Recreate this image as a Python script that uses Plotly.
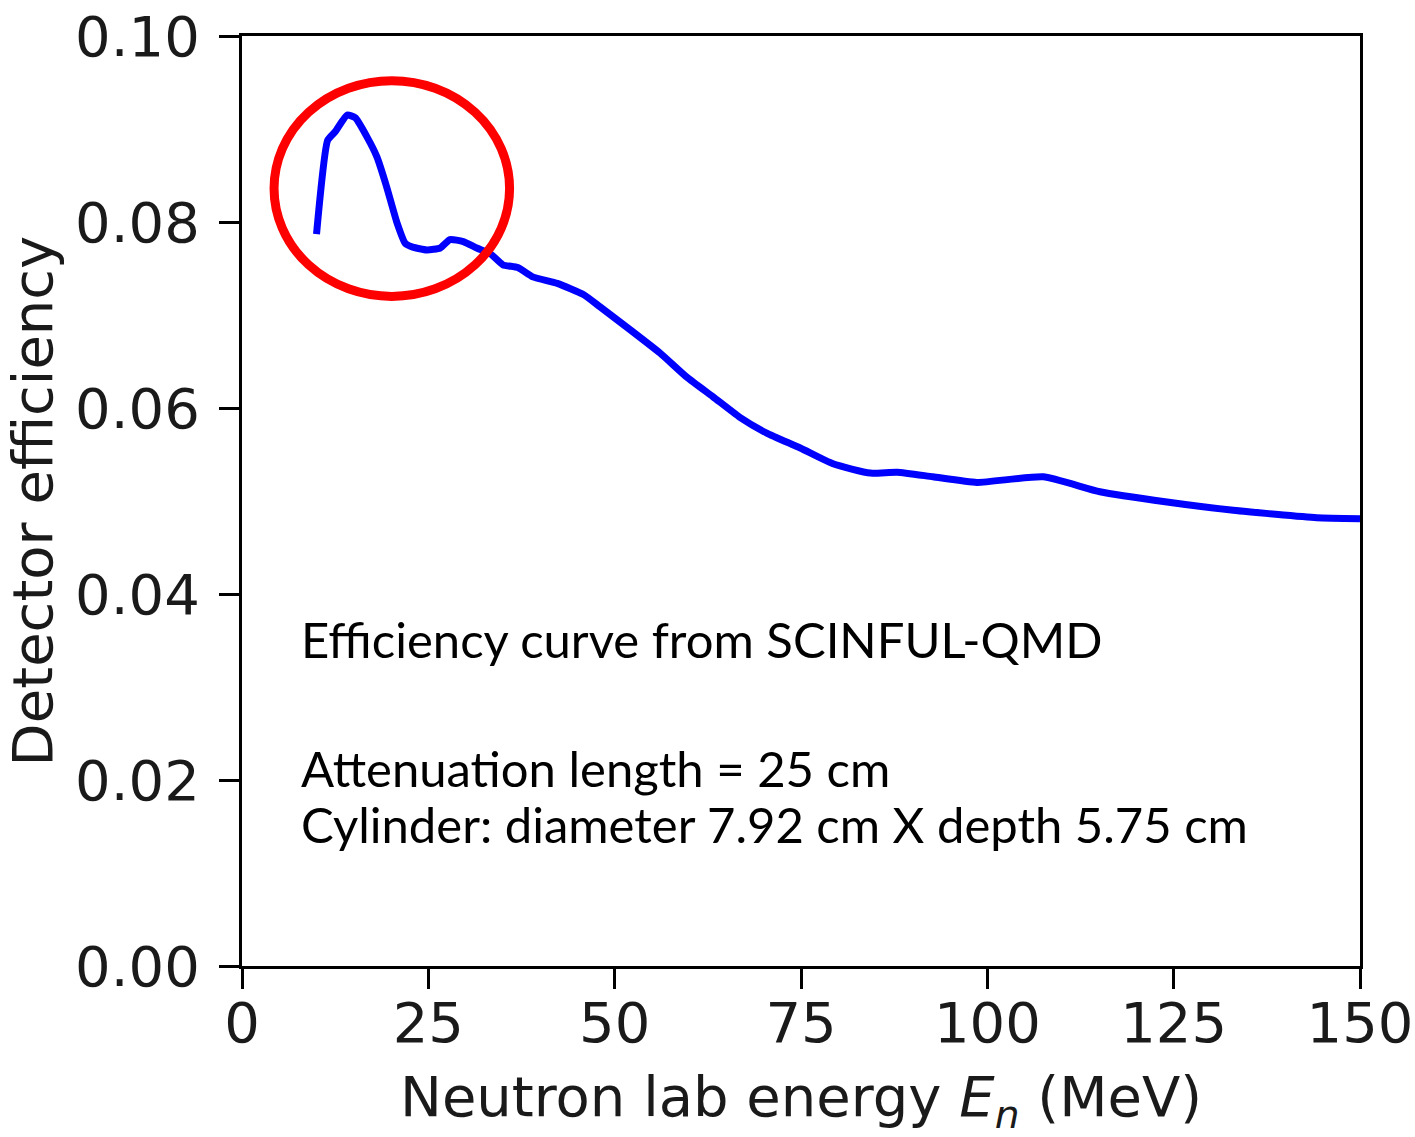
import plotly.graph_objects as go

# Data
energy_mev = [10, 11.5, 12.5, 14.1, 15.2, 16.8, 18.1, 19.4, 20.8, 21.9, 22.9, 24.8,
              26.6, 27.9, 29.7, 31.5, 33.3, 35.0, 37.0, 39.0, 42.3, 45.8, 48.0,
              52.1, 56.1, 59.7, 63.2, 66.8, 70.4, 74.9, 79.3, 84.3, 87.9, 92.7,
              98.6, 107.5, 115.1, 124.1, 133.0, 144.2, 150]
efficiency = [0.0787, 0.0888, 0.0897, 0.0915, 0.0912, 0.0891, 0.0870, 0.0838,
              0.0799, 0.0777, 0.0773, 0.0770, 0.0772, 0.0781, 0.0779, 0.0772,
              0.0766, 0.0754, 0.0751, 0.0741, 0.0734, 0.0722, 0.0709, 0.0684,
              0.0659, 0.0633, 0.0612, 0.0590, 0.0573, 0.0557, 0.0540, 0.0530,
              0.0531, 0.0526, 0.0520, 0.0526, 0.0510, 0.0499, 0.0490, 0.0482,
              0.0481]

x_ticks = [0, 25, 50, 75, 100, 125, 150]
y_ticks = [0.00, 0.02, 0.04, 0.06, 0.08, 0.10]
y_tick_labels = ["0.00", "0.02", "0.04", "0.06", "0.08", "0.10"]

x_title = "Neutron lab energy <i>E<sub>n</sub></i> (MeV)"
y_title = "Detector efficiency"

# Highlight ellipse bounds (data units)
ellipse_x = [4.3, 35.9]
ellipse_y = [0.0720, 0.0952]

note_lines = [
    "Efficiency curve from SCINFUL-QMD",
    "Attenuation length = 25 cm",
    "Cylinder: diameter 7.92 cm X depth 5.75 cm",
]
note_y = [0.352, 0.2131, 0.1525]

fig = go.Figure()
fig.add_trace(go.Scatter(
    x=energy_mev, y=efficiency, mode="lines",
    line=dict(color="rgb(0,0,255)", width=7, shape="spline", smoothing=0.5),
    showlegend=False, hoverinfo="skip"))

fig.add_shape(type="circle", xref="x", yref="y",
              x0=ellipse_x[0], x1=ellipse_x[1], y0=ellipse_y[0], y1=ellipse_y[1],
              line=dict(color="rgb(255,0,0)", width=9))

for txt, yy in zip(note_lines, note_y):
    fig.add_annotation(text=txt, xref="paper", yref="paper", x=0.0507, y=yy,
                       xanchor="left", yanchor="middle", showarrow=False,
                       font=dict(family="Lato", size=49, color="black"))

# Axis titles
fig.add_annotation(text=x_title, xref="paper", yref="paper", x=0.5, y=-0.1441,
                   xanchor="center", yanchor="middle", showarrow=False,
                   font=dict(family="DejaVu Sans", size=56, color="#1a1a1a"))
fig.add_annotation(text=y_title, xref="paper", yref="paper", x=-0.1875, y=0.5,
                   xanchor="center", yanchor="middle", showarrow=False, textangle=-90,
                   font=dict(family="DejaVu Sans", size=56, color="#1a1a1a"))

axis_common = dict(showline=True, linecolor="black", linewidth=3, mirror=True,
                   ticks="outside", ticklen=20, tickwidth=3, tickcolor="black",
                   showgrid=False, zeroline=False, automargin=False,
                   tickfont=dict(family="DejaVu Sans", size=56, color="#1a1a1a"))

fig.update_xaxes(range=[0, 150], tickvals=x_ticks, ticktext=[str(v) for v in x_ticks],
                 ticklabelstandoff=-14, **axis_common)
fig.update_yaxes(range=[0, 0.10], tickvals=y_ticks, ticktext=y_tick_labels,
                 ticklabelstandoff=8, **axis_common)

fig.update_layout(width=1415, height=1137, autosize=False,
                  margin=dict(l=242, r=55, t=36, b=171),
                  paper_bgcolor="white", plot_bgcolor="white")

fig.write_html("out.html")
